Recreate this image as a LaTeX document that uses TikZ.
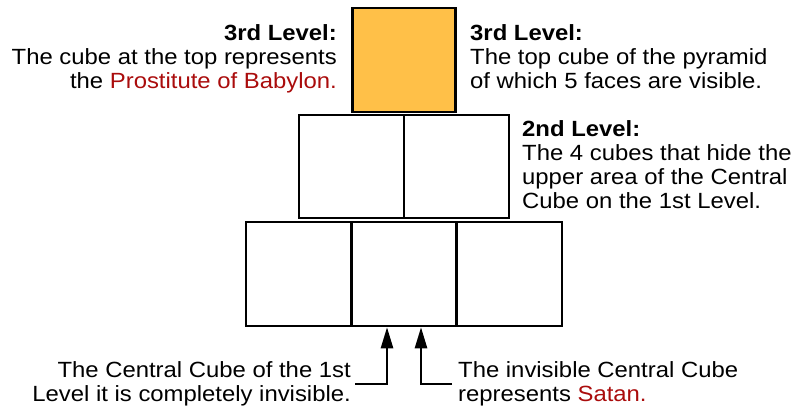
\documentclass[tikz,border=0pt]{standalone}
\usepackage{fontspec}
\setmainfont[FakeStretch=1.085]{Liberation Sans}
\usetikzlibrary{arrows.meta}
\definecolor{cubegold}{RGB}{255,192,72}
\definecolor{darkred}{RGB}{170,12,12}
\tikzset{
  cube/.style={draw, line width=2.5pt, minimum width=105pt, minimum height=104pt, inner sep=0pt, fill=white},
  note/.style={font=\fontsize{22}{24}\selectfont, inner sep=0pt},
  arr/.style={line width=2.5pt, -{Triangle[length=21pt,width=12pt]}},
}
\begin{document}
\begin{tikzpicture}[x=1pt,y=-1pt]
\useasboundingbox (0,0) rectangle (793,405);

% Level 1
\node[cube] (l1a) at (298.5,274) {};
\node[cube] (l1b) at (404,274) {};
\node[cube] (l1c) at (509.5,274) {};

% Level 2
\node[cube, minimum height=103pt] (l2a) at (351.5,166.5) {};
\node[cube, minimum height=103pt] (l2b) at (456.5,166.5) {};

% Level 3
\node[cube, fill=cubegold, minimum width=103pt] (top) at (404,60) {};

% Notes
\node[note, anchor=north east, align=right] (topleft) at (337,24)
  {\textbf{3rd Level:}\\The cube at the top represents\\the \textcolor{darkred}{Prostitute of Babylon.}};
\node[note, anchor=north west, align=left] (topright) at (470,24)
  {\textbf{3rd Level:}\\The top cube of the pyramid\\of which 5 faces are visible.};
\node[note, anchor=north west, align=left] (midright) at (522,120)
  {\textbf{2nd Level:}\\The 4 cubes that hide the\\upper area of the Central\\Cube on the 1st Level.};
\node[note, anchor=north east, align=right] (botleft) at (351,361)
  {The Central Cube of the 1st\\Level it is completely invisible.};
\node[note, anchor=north west, align=left] (botright) at (458,361)
  {The invisible Central Cube\\represents \textcolor{darkred}{Satan.}};

% Arrows
\coordinate (lfoot) at (355,384);
\coordinate (rfoot) at (452,384);
\draw[arr] (lfoot) -| ([xshift=-17pt]l1b.south);
\draw[arr] (rfoot) -| ([xshift=17pt]l1b.south);

\end{tikzpicture}
\end{document}
